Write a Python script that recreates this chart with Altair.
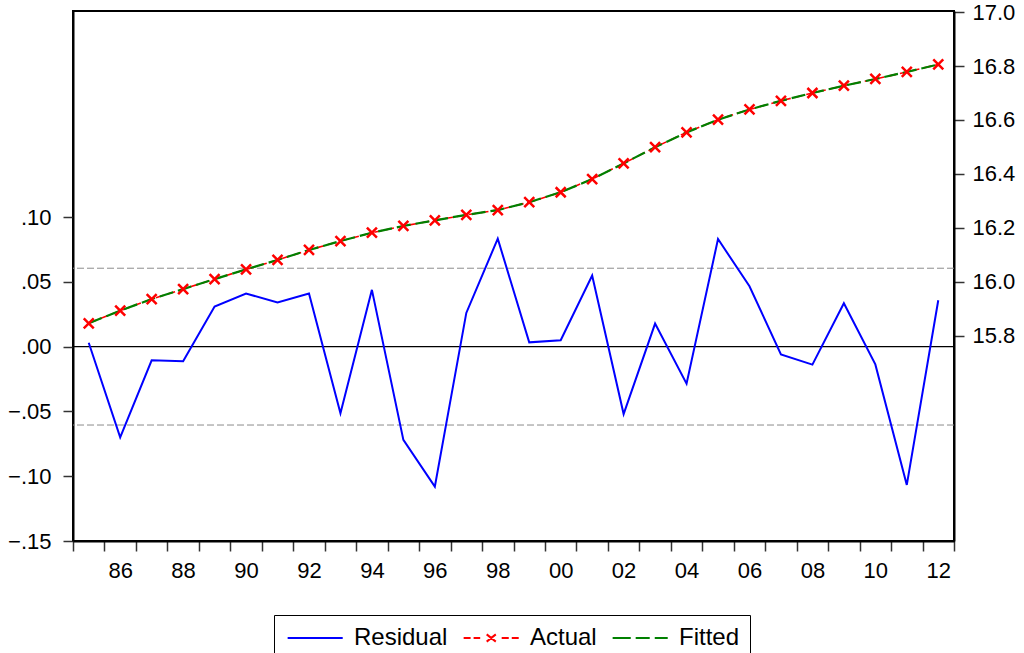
import altair as alt
import pandas as pd

# ---- data ----
years = list(range(1985, 2013))
residual = [0.003, -0.070, -0.0106, -0.0113, 0.031, 0.041, 0.034, 0.041, -0.0515, 0.0438,
            -0.072, -0.108, 0.026, 0.0833, 0.0033, 0.0049, 0.0549, -0.052, 0.0178, -0.0286,
            0.083, 0.0466, -0.006, -0.0139, 0.0335, -0.0137, -0.1067, 0.0358]
actual = [15.846, 15.893, 15.936, 15.973, 16.010, 16.046, 16.081, 16.118, 16.151, 16.182,
          16.207, 16.228, 16.248, 16.266, 16.295, 16.332, 16.381, 16.439, 16.499, 16.554,
          16.601, 16.639, 16.671, 16.700, 16.727, 16.752, 16.778, 16.806]
fitted = [15.846, 15.893, 15.936, 15.973, 16.010, 16.046, 16.081, 16.118, 16.151, 16.182,
          16.207, 16.228, 16.248, 16.266, 16.295, 16.332, 16.381, 16.439, 16.499, 16.554,
          16.601, 16.639, 16.671, 16.700, 16.727, 16.752, 16.778, 16.806]
sd_lines = [0.0605, -0.0605]
zero_line = [0.0]
series_names = ["Residual", "Actual", "Fitted"]
series_colors = ["#0000FF", "#FF0000", "#008000"]
left_ticks = [-0.15, -0.10, -0.05, 0.0, 0.05, 0.10]
right_ticks = [15.8, 16.0, 16.2, 16.4, 16.6, 16.8, 17.0]
x_ticks = list(range(1985, 2014))

# legend glyphs (custom symbol paths, unit = 12 px)
legend_paths = [
    "M-0.78,0L3.81,0",
    "M-0.78,0L-0.2,0M0.05,0L0.6,0M2.39,0L2.98,0M3.23,0L3.81,0"
    "M1.14,-0.3L1.9,0.3M1.14,0.3L1.9,-0.3",
    "M-0.78,0L0.73,0M1.14,0L2.31,0M2.73,0L3.81,0",
]
x_marker = "M-1,-1L1,1M-1,1L1,-1"

df = pd.DataFrame({"year": years, "Residual": residual, "Actual": actual, "Fitted": fitted})

FONT = "Liberation Sans"

x_enc = alt.X(
    "xpos:Q",
    scale=alt.Scale(domain=[1985, 2013], nice=False, zero=False),
    axis=alt.Axis(
        values=x_ticks,
        labelExpr="(datum.value % 2 == 0 && datum.value < 2013) ? substring(toString(datum.value), 2) : ''",
        labelOffset=15.7,
        labelOverlap=False,
        labelFlush=False,
        tickSize=10,
        labelPadding=9,
        grid=False,
        title=None,
    ),
)

left_scale = alt.Scale(domain=[-0.15, 0.259], nice=False, zero=False)
right_scale = alt.Scale(domain=[15.039, 17.004], nice=False, zero=False)

left_axis = alt.Axis(
    values=left_ticks,
    labelExpr="replace(format(datum.value, '.2f'), '0.', '.')",
    orient="left",
    tickSize=10,
    labelPadding=12,
    grid=False,
    title=None,
)
right_axis = alt.Axis(
    values=right_ticks,
    format=".1f",
    orient="right",
    tickSize=10,
    labelPadding=8,
    grid=False,
    title=None,
)

base = alt.Chart(df).transform_calculate(xpos="datum.year + 0.5")

resid_line = base.mark_line(color="#0000FF", strokeWidth=2).encode(
    x=x_enc, y=alt.Y("Residual:Q", scale=left_scale, axis=left_axis)
)

sd_rule = alt.Chart(pd.DataFrame({"v": sd_lines})).mark_rule(
    color="#8c8c8c", strokeDash=[7, 3], strokeWidth=1
).encode(y=alt.Y("v:Q", scale=left_scale, axis=left_axis))

zero_rule = alt.Chart(pd.DataFrame({"v": zero_line})).mark_rule(
    color="black", strokeWidth=1.2
).encode(y=alt.Y("v:Q", scale=left_scale, axis=left_axis))

legend_def = alt.Legend(title=None)
legend_layer = alt.Chart(pd.DataFrame({"series": series_names})).mark_point(
    filled=False, opacity=0, size=576, strokeWidth=2
).encode(
    color=alt.Color("series:N", scale=alt.Scale(domain=series_names, range=series_colors), legend=legend_def),
    shape=alt.Shape("series:N", scale=alt.Scale(domain=series_names, range=legend_paths), legend=legend_def),
)

left = alt.layer(sd_rule, zero_rule, resid_line, legend_layer)

actual_line = base.mark_line(color="#FF0000", strokeDash=[8, 4], strokeWidth=1.6).encode(
    x=x_enc, y=alt.Y("Actual:Q", scale=right_scale, axis=right_axis)
)
fitted_line = base.mark_line(color="#008000", strokeDash=[14, 5], strokeWidth=2.2).encode(
    x=x_enc, y=alt.Y("Fitted:Q", scale=right_scale, axis=right_axis)
)
actual_pts = base.mark_point(
    shape=x_marker, filled=False, color="#FF0000", strokeWidth=2.5, size=100, opacity=1
).encode(x=x_enc, y=alt.Y("Actual:Q", scale=right_scale, axis=right_axis))

right = alt.layer(actual_line, fitted_line, actual_pts)

chart = (
    alt.layer(left, right)
    .resolve_scale(y="independent")
    .properties(
        width=881,
        height=530,
        autosize=alt.AutoSizeParams(type="none"),
        padding={"left": 73, "top": 11, "right": 70, "bottom": 112},
        background="white",
    )
    .configure_view(stroke="black", strokeWidth=2)
    .configure_axis(
        labelFont=FONT,
        labelFontSize=22,
        labelColor="black",
        domainColor="black",
        domainWidth=2,
        tickColor="#333333",
        tickWidth=1.5,
    )
    .configure_legend(
        orient="none",
        legendX=201,
        legendY=604,
        direction="horizontal",
        strokeColor="black",
        padding=10,
        labelFont=FONT,
        labelFontSize=24,
        labelColor="black",
        labelOffset=44,
        columnPadding=11,
        symbolSize=576,
        symbolStrokeWidth=2,
    )
)

chart.save("out.html", embed_options={"renderer": "svg", "actions": False})
